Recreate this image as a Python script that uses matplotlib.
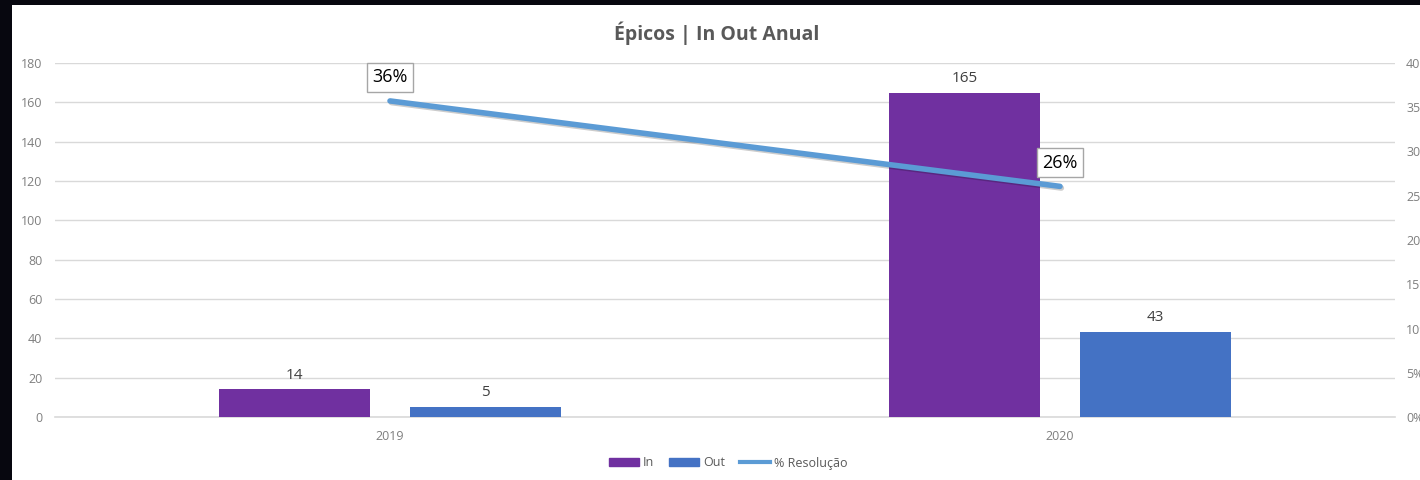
import numpy as np
import matplotlib.pyplot as plt
import matplotlib.patheffects as pe
from matplotlib.patches import Patch
from matplotlib.lines import Line2D

plt.rcParams['font.family'] = ['Open Sans', 'DejaVu Sans']

# data
anos = ['2019', '2020']
entrada = [14, 165]
saida = [5, 43]
resolucao = [5 / 14, 43 / 165]
resolucao_txt = ['36%', '26%']
ticks_esq = [0, 20, 40, 60, 80, 100, 120, 140, 160, 180]
ticks_dir = [0, 0.05, 0.10, 0.15, 0.20, 0.25, 0.30, 0.35, 0.40]

cor_in = '#7030A0'
cor_out = '#4472C4'
cor_linha = '#5B9BD5'
cinza = '#7f7f7f'

fig = plt.figure(figsize=(14.2, 4.8), dpi=100, facecolor='#07070f')
# white chart panel over the dark background
bg = fig.add_axes([12 / 1420, 0, 1408 / 1420, 475 / 480], zorder=-5)
bg.set_facecolor('white')
bg.set_xticks([])
bg.set_yticks([])
for s in bg.spines.values():
    s.set_visible(False)

ax = fig.add_axes([55 / 1420, 63 / 480, 1340 / 1420, 354 / 480])
ax.set_facecolor('none')
x = np.arange(len(anos))
w = 0.225
off = 0.1425

b1 = ax.bar(x - off, entrada, w, color=cor_in, zorder=3)
b2 = ax.bar(x + off, saida, w, color=cor_out, zorder=3)
for bars in (b1, b2):
    for r in bars:
        ax.annotate(str(int(r.get_height())), (r.get_x() + r.get_width() / 2, r.get_height()),
                    xytext=(0, 5), textcoords='offset points', ha='center', va='bottom',
                    fontsize=11, color='#404040')

ax.set_xlim(-0.5, 1.5)
ax.set_ylim(0, 180)
ax.set_yticks(ticks_esq)
ax.set_xticks(x)
ax.set_xticklabels(anos)
ax.tick_params(axis='both', length=0, labelsize=9, labelcolor=cinza)
ax.tick_params(axis='y', pad=9)
ax.tick_params(axis='x', pad=9)
ax.grid(axis='y', color='#d9d9d9', lw=1, zorder=0)
ax.axhline(0, color='#d9d9d9', lw=1.2, zorder=2, clip_on=False)
for s in ax.spines.values():
    s.set_visible(False)

ax2 = ax.twinx()
ax2.plot(x, resolucao, color=cor_linha, lw=4, solid_capstyle='round', zorder=4,
         path_effects=[pe.SimpleLineShadow(offset=(1, -1.2), alpha=0.2), pe.Normal()])
ax2.set_ylim(0, 0.40)
ax2.set_yticks(ticks_dir)
ax2.set_yticklabels([f'{int(round(t * 100))}%' for t in ticks_dir])
ax2.tick_params(axis='y', length=0, labelsize=9, labelcolor=cinza, pad=8)
for s in ax2.spines.values():
    s.set_visible(False)
for xi, yi, t in zip(x, resolucao, resolucao_txt):
    ax2.annotate(t, (xi, yi), xytext=(0, 17), textcoords='offset points', ha='center',
                 va='center', fontsize=13, color='black',
                 bbox=dict(boxstyle='square,pad=0.3', fc='white', ec='#a6a6a6', lw=1))

fig.text(717 / 1420, 1 - 33 / 480, 'Épicos | In Out Anual', ha='center', va='center',
         fontsize=14, fontweight='bold', color='#595959')

handles = [Patch(color=cor_in), Patch(color=cor_out), Line2D([], [], color=cor_linha, lw=3)]
fig.legend(handles, ['In', 'Out', '% Resolução'], loc='center', ncol=3,
           bbox_to_anchor=(728 / 1420, 17 / 480), frameon=False, fontsize=9,
           labelcolor='#595959', handlelength=2.4, handleheight=0.55,
           handletextpad=0.3, columnspacing=1.2)

fig.savefig('out.png', dpi=100, facecolor=fig.get_facecolor())
